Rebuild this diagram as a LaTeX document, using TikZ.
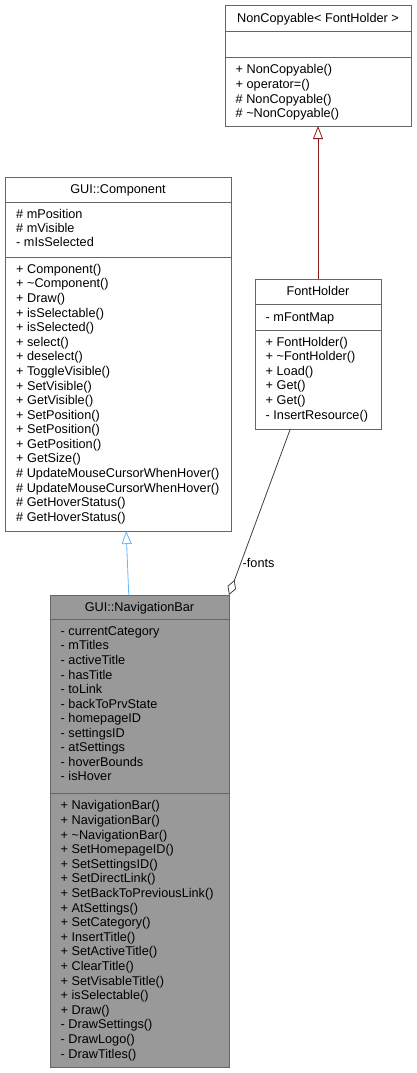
\documentclass[tikz,border=0pt]{standalone}
\usepackage{fontspec}
\setmainfont{Liberation Sans}
\usetikzlibrary{arrows.meta,calc}

\definecolor{frame}{HTML}{666666}
\definecolor{focus}{HTML}{999999}
\definecolor{pubinh}{HTML}{63B8FF}
\definecolor{privinh}{HTML}{8B1A1A}
\definecolor{usage}{HTML}{404040}

\newcommand{\umlfont}{\fontsize{12.7}{14}\selectfont}

\tikzset{
  classbox/.style={draw=frame, line width=0.9pt, anchor=north west,
                   inner sep=0pt, outer sep=0pt, fill=white},
  focusbox/.style={classbox, fill=focus},
  classtitle/.style={anchor=base, inner sep=0pt, font=\umlfont},
  member/.style={anchor=base west, inner sep=0pt, font=\umlfont},
  divider/.style={draw=frame, line width=0.9pt},
  inhpublic/.style={draw=pubinh, line width=0.8pt,
                    -{Triangle[open,length=13pt,width=10pt,line width=0.8pt]}},
  inhprivate/.style={draw=privinh, line width=0.8pt,
                     -{Triangle[open,length=13pt,width=10pt,line width=0.8pt]}},
  aggregation/.style={draw=usage, line width=0.8pt,
                      {Diamond[open,length=16pt,width=9pt,line width=0.8pt]}-},
  edgelabel/.style={anchor=base west, inner sep=0pt, font=\umlfont},
}

\begin{document}
\begin{tikzpicture}[x=1pt, y=-1pt]
  \useasboundingbox[fill=white] (0,0) rectangle (417,1073);

  % ---------- NonCopyable< FontHolder > ----------
  \node[classbox, minimum width=186pt, minimum height=121pt] (nc) at (225,5) {};
  \node[classtitle] (nc-title) at (318,22.4) {NonCopyable< FontHolder >};
  \draw[divider] (225,31) -- (411,31);
  \draw[divider] (225,57) -- (411,57);
  \foreach [count=\i from 0] \mname in {%
      + NonCopyable(),
      + operator=(),
      \# NonCopyable(),
      \# \textasciitilde NonCopyable()}
    \node[member] (nc-m\i) at (235.5,{73.9+14.55*\i}) {\mname};

  % ---------- GUI::Component ----------
  \node[classbox, minimum width=226pt, minimum height=354pt] (comp) at (5,177) {};
  \node[classtitle] (comp-title) at (118,193.9) {GUI::Component};
  \draw[divider] (5,202) -- (231,202);
  \draw[divider] (5,257) -- (231,257);
  \foreach [count=\i from 0] \mname in {%
      \# mPosition,
      \# mVisible,
      - mIsSelected}
    \node[member] (comp-a\i) at (16,{218.0+14.4*\i}) {\mname};
  \foreach [count=\i from 0] \mname in {%
      + Component(),
      + \textasciitilde Component(),
      + Draw(),
      + isSelectable(),
      + isSelected(),
      + select(),
      + deselect(),
      + ToggleVisible(),
      + SetVisible(),
      + GetVisible(),
      + SetPosition(),
      + SetPosition(),
      + GetPosition(),
      + GetSize(),
      \# UpdateMouseCursorWhenHover(),
      \# UpdateMouseCursorWhenHover(),
      \# GetHoverStatus(),
      \# GetHoverStatus()}
    \node[member] (comp-m\i) at (16,{273.4+14.58*\i}) {\mname};

  % ---------- FontHolder ----------
  \node[classbox, minimum width=126pt, minimum height=150pt] (fh) at (255,279) {};
  \node[classtitle] (fh-title) at (318,295.9) {FontHolder};
  \draw[divider] (255,304) -- (381,304);
  \draw[divider] (255,330) -- (381,330);
  \node[member] (fh-a0) at (265.5,321.1) {- mFontMap};
  \foreach [count=\i from 0] \mname in {%
      + FontHolder(),
      + \textasciitilde FontHolder(),
      + Load(),
      + Get(),
      + Get(),
      - InsertResource()}
    \node[member] (fh-m\i) at (265.5,{346.1+14.6*\i}) {\mname};

  % ---------- GUI::NavigationBar ----------
  \node[focusbox, minimum width=179pt, minimum height=472pt] (nb) at (50,595) {};
  \node[classtitle] (nb-title) at (139.5,611.4) {GUI::NavigationBar};
  \draw[divider] (50,619) -- (229,619);
  \draw[divider] (50,793) -- (229,793);
  \foreach [count=\i from 0] \mname in {%
      - currentCategory,
      - mTitles,
      - activeTitle,
      - hasTitle,
      - toLink,
      - backToPrvState,
      - homepageID,
      - settingsID,
      - atSettings,
      - hoverBounds,
      - isHover}
    \node[member] (nb-a\i) at (60.5,{635.4+14.55*\i}) {\mname};
  \foreach [count=\i from 0] \mname in {%
      + NavigationBar(),
      + NavigationBar(),
      + \textasciitilde NavigationBar(),
      + SetHomepageID(),
      + SetSettingsID(),
      + SetDirectLink(),
      + SetBackToPreviousLink(),
      + AtSettings(),
      + SetCategory(),
      + InsertTitle(),
      + SetActiveTitle(),
      + ClearTitle(),
      + SetVisableTitle(),
      + isSelectable(),
      + Draw(),
      - DrawSettings(),
      - DrawLogo(),
      - DrawTitles()}
    \node[member] (nb-m\i) at (60.5,{809.9+14.6*\i}) {\mname};

  % ---------- relations ----------
  % FontHolder privately derives from NonCopyable
  \draw[inhprivate] (fh.north) -- (nc.south);
  % NavigationBar derives from Component
  \draw[inhpublic] ($(nb.north west)!0.44!(nb.north east)$)
                -- ($(comp.south west)!0.536!(comp.south east)$);
  % NavigationBar owns a FontHolder named fonts
  \draw[aggregation] (nb.north east)
                -- ($(fh.south west)!0.28!(fh.south east)$);
  \node[edgelabel] (fonts-label) at (242.5,567) {-fonts};
\end{tikzpicture}
\end{document}
